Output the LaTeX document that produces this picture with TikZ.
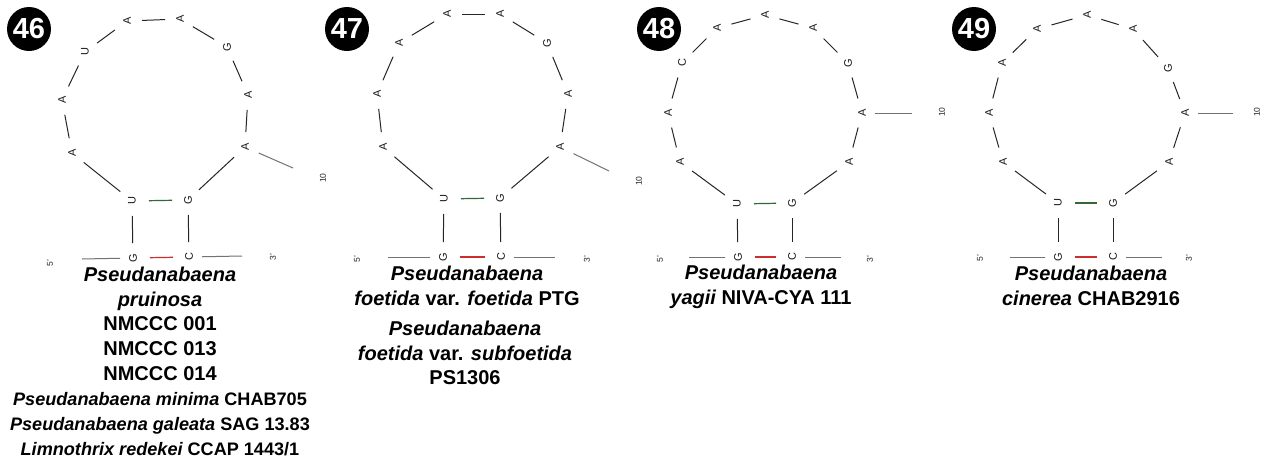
\documentclass[tikz,border=0pt]{standalone}
\usepackage{fontspec}
\setmainfont{Liberation Sans}
\definecolor{bpred}{RGB}{205,45,45}
\definecolor{bpgreen}{RGB}{50,105,55}
\begin{document}
\begin{tikzpicture}[x=1pt,y=-1pt,
  nt/.style={font=\fontsize{11}{11}\selectfont, rotate=90, inner sep=0pt, text=black!90},
  tiny/.style={font=\fontsize{8.5}{8.5}\selectfont, rotate=90, inner sep=0pt, text=black!85},
  bond/.style={draw=black!85, line width=1pt, shorten <=15pt, shorten >=15pt},
  tail/.style={draw=black!55, line width=1pt, shorten <=13pt},
  gc/.style={draw=bpred, line width=1.2pt, shorten <=17pt, shorten >=16pt},
  gu/.style={draw=bpgreen, line width=1.2pt, shorten <=17pt, shorten >=16pt},
  badge/.style={circle, fill=black, text=white, minimum size=44pt, inner sep=0pt, font=\fontsize{29}{29}\selectfont\bfseries},
  lbl/.style={font=\fontsize{20}{24.5}\selectfont\bfseries, align=center, inner sep=0pt}
]
\useasboundingbox (0,0) rectangle (1264,461);
\fill[white] (0,0) rectangle (1264,461);

% ---------------- panel 46 ----------------
\node[badge] (b46) at (29,29) {46};
\node[nt] (p46u1) at (132,201) {U};
\node[nt] (p46a1) at (72,153) {A};
\node[nt] (p46a2) at (62,100) {A};
\node[nt] (p46u2) at (85,52) {U};
\node[nt] (p46a3) at (127,21) {A};
\node[nt] (p46a4) at (180,19) {A};
\node[nt] (p46g1) at (227,47) {G};
\node[nt] (p46a5) at (248,95) {A};
\node[nt] (p46a6) at (245,147) {A};
\node[nt] (p46g2) at (188,200) {G};
\node[nt] (p46g0) at (133,258) {G};
\node[nt] (p46c0) at (189,257) {C};
\node[tiny] (p46e5) at (50,263) {5'};
\node[tiny] (p46e3) at (273,257) {3'};
\node[tiny] (p46n10) at (323,178) {10};
\coordinate (p46l) at (82,259);
\coordinate (p46r) at (242,256);
\coordinate (p46s) at (293,168);
\foreach \a/\b in {p46u1/p46a1,p46a1/p46a2,p46a2/p46u2,p46u2/p46a3,p46a3/p46a4,p46a4/p46g1,p46g1/p46a5,p46a5/p46a6,p46a6/p46g2,p46u1/p46g0,p46g2/p46c0}
  \draw[bond] (\a.center) -- (\b.center);
\draw[gu] (p46u1.center) -- (p46g2.center);
\draw[gc] (p46g0.center) -- (p46c0.center);
\draw[tail] (p46g0.center) -- (p46l);
\draw[tail] (p46c0.center) -- (p46r);
\draw[tail, shorten <=15pt] (p46a6.center) -- (p46s);
\node[lbl, anchor=north, font=\fontsize{20}{24.9}\selectfont\bfseries] (t46) at (160,266.5) {{\itshape Pseudanabaena}\\{\itshape pruinosa}\\NMCCC 001\\NMCCC 013\\NMCCC 014\\%
{\fontsize{18.1}{24.9}\selectfont{\itshape Pseudanabaena minima} CHAB705}\\%
{\fontsize{18.1}{24.9}\selectfont{\itshape Pseudanabaena galeata} SAG 13.83}\\%
{\fontsize{18.1}{24.9}\selectfont{\itshape Limnothrix redekei} CCAP 1443/1}};

% ---------------- panel 47 ----------------
\node[badge] (b47) at (347,29) {47};
\node[nt] (p47u1) at (444,199) {U};
\node[nt] (p47a1) at (383,147) {A};
\node[nt] (p47a2) at (377,94) {A};
\node[nt] (p47a3) at (399,43) {A};
\node[nt] (p47a4) at (447,14) {A};
\node[nt] (p47a5) at (500,14) {A};
\node[nt] (p47g1) at (547,43) {G};
\node[nt] (p47a6) at (568,94) {A};
\node[nt] (p47a7) at (560,147) {A};
\node[nt] (p47g2) at (500,198) {G};
\node[nt] (p47g0) at (443,257) {G};
\node[nt] (p47c0) at (501,257) {C};
\node[tiny] (p47e5) at (357,259) {5'};
\node[tiny] (p47e3) at (587,259) {3'};
\node[tiny] (p47n10) at (639,181) {10};
\coordinate (p47l) at (388,257);
\coordinate (p47r) at (555,257);
\coordinate (p47s) at (609,171);
\foreach \a/\b in {p47u1/p47a1,p47a1/p47a2,p47a2/p47a3,p47a3/p47a4,p47a4/p47a5,p47a5/p47g1,p47g1/p47a6,p47a6/p47a7,p47a7/p47g2,p47u1/p47g0,p47g2/p47c0}
  \draw[bond] (\a.center) -- (\b.center);
\draw[gu] (p47u1.center) -- (p47g2.center);
\draw[gc] (p47g0.center) -- (p47c0.center);
\draw[tail] (p47g0.center) -- (p47l);
\draw[tail] (p47c0.center) -- (p47r);
\draw[tail, shorten <=15pt] (p47a7.center) -- (p47s);
\node[lbl] (t47a) at (467,286) {{\itshape Pseudanabaena}\\{\itshape foetida} var. {\itshape foetida} PTG};
\node[lbl] (t47b) at (465,353) {{\itshape Pseudanabaena}\\{\itshape foetida} var. {\itshape subfoetida}\\PS1306};

% ---------------- panel 48 ----------------
\node[badge] (b48) at (659,29) {48};
\node[nt] (p48u1) at (737,204) {U};
\node[nt] (p48a1) at (680,162) {A};
\node[nt] (p48a2) at (668,113) {A};
\node[nt] (p48c1) at (682,63) {C};
\node[nt] (p48a3) at (717,28) {A};
\node[nt] (p48a4) at (765,15) {A};
\node[nt] (p48a5) at (813,28) {A};
\node[nt] (p48g1) at (848,63) {G};
\node[nt] (p48a6) at (862,113) {A};
\node[nt] (p48a7) at (849,162) {A};
\node[nt] (p48g2) at (792,203) {G};
\node[nt] (p48g0) at (738,257) {G};
\node[nt] (p48c0) at (792,257) {C};
\node[tiny] (p48e5) at (660,259) {5'};
\node[tiny] (p48e3) at (870,259) {3'};
\node[tiny] (p48n10) at (942,112) {10};
\coordinate (p48l) at (689,257);
\coordinate (p48r) at (841,257);
\coordinate (p48s) at (912,113);
\foreach \a/\b in {p48u1/p48a1,p48a1/p48a2,p48a2/p48c1,p48c1/p48a3,p48a3/p48a4,p48a4/p48a5,p48a5/p48g1,p48g1/p48a6,p48a6/p48a7,p48a7/p48g2,p48u1/p48g0,p48g2/p48c0}
  \draw[bond] (\a.center) -- (\b.center);
\draw[gu] (p48u1.center) -- (p48g2.center);
\draw[gc] (p48g0.center) -- (p48c0.center);
\draw[tail] (p48g0.center) -- (p48l);
\draw[tail] (p48c0.center) -- (p48r);
\draw[tail] (p48a6.center) -- (p48s);
\node[lbl] (t48) at (761,287) {{\itshape Pseudanabaena}\\{\itshape yagii} NIVA-CYA 111};

% ---------------- panel 49 ----------------
\node[badge] (b49) at (974,29) {49};
\node[nt] (p49u1) at (1058,203) {U};
\node[nt] (p49a1) at (1003,162) {A};
\node[nt] (p49a2) at (989,113) {A};
\node[nt] (p49a3) at (1002,63) {A};
\node[nt] (p49a4) at (1037,29) {A};
\node[nt] (p49a5) at (1087,15) {A};
\node[nt] (p49a6) at (1133,29) {A};
\node[nt] (p49g1) at (1168,68) {G};
\node[nt] (p49a7) at (1185,113) {A};
\node[nt] (p49a8) at (1169,162) {A};
\node[nt] (p49g2) at (1113,203) {G};
\node[nt] (p49g0) at (1058,257) {G};
\node[nt] (p49c0) at (1113,257) {C};
\node[tiny] (p49e5) at (980,258) {5'};
\node[tiny] (p49e3) at (1189,258) {3'};
\node[tiny] (p49n10) at (1257,112) {10};
\coordinate (p49l) at (1010,257);
\coordinate (p49r) at (1162,257);
\coordinate (p49s) at (1233,113);
\foreach \a/\b in {p49u1/p49a1,p49a1/p49a2,p49a2/p49a3,p49a3/p49a4,p49a4/p49a5,p49a5/p49a6,p49a6/p49g1,p49g1/p49a7,p49a7/p49a8,p49a8/p49g2,p49u1/p49g0,p49g2/p49c0}
  \draw[bond] (\a.center) -- (\b.center);
\draw[gu] (p49u1.center) -- (p49g2.center);
\draw[gc] (p49g0.center) -- (p49c0.center);
\draw[tail] (p49g0.center) -- (p49l);
\draw[tail] (p49c0.center) -- (p49r);
\draw[tail] (p49a7.center) -- (p49s);
\node[lbl] (t49) at (1091,286) {{\itshape Pseudanabaena}\\{\itshape cinerea} CHAB2916};
\end{tikzpicture}
\end{document}
